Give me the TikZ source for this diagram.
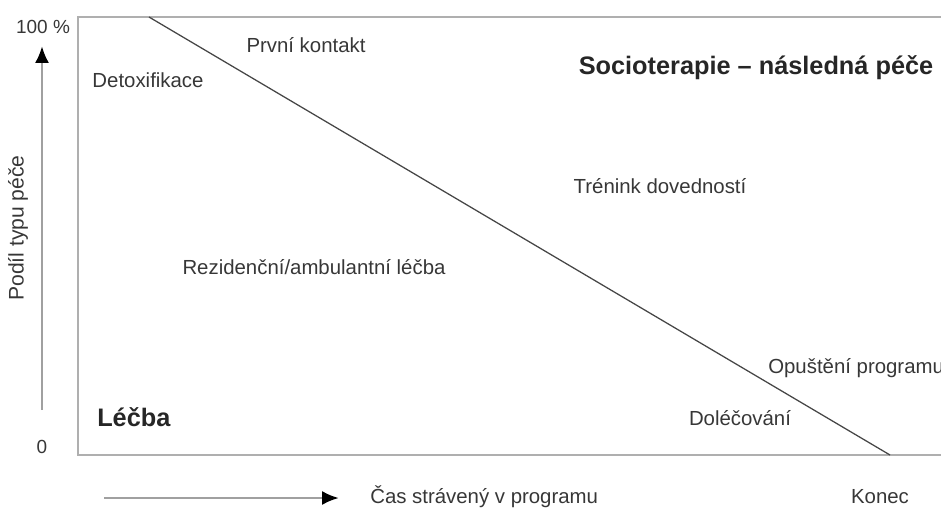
\documentclass[tikz,border=0pt]{standalone}
\usepackage{fontspec}
\setmainfont{Liberation Sans}
\usepackage{tikz}
\usepackage{xcolor}
\usetikzlibrary{arrows.meta,positioning}
\definecolor{txtgray}{RGB}{55,55,55}
\definecolor{boxgray}{RGB}{175,175,175}
\definecolor{shaftgray}{RGB}{160,160,160}
\definecolor{diaggray}{RGB}{70,70,70}

\begin{document}
\begin{tikzpicture}[x=0.025cm, y=-0.025cm,
  every node/.style={font=\fontsize{14.5}{16}\selectfont, text=txtgray, inner sep=0pt},
  bigl/.style={font=\fontsize{18}{20}\selectfont\bfseries, text=black!85},
  axl/.style={font=\fontsize{13.5}{15}\selectfont},
  axarrow/.style={draw=shaftgray, line width=2pt, -{Latex[color=black,length=12pt,width=10pt]}}]
\useasboundingbox (0,0) rectangle (941,508);
% frame, open at the right
\coordinate (tr) at (945,17);
\coordinate (tl) at (78,17);
\coordinate (bl) at (78,455);
\coordinate (br) at (945,455);
\draw[boxgray, line width=0.9pt] (tr) -- (tl) -- (bl) -- (br);
% dividing line
\coordinate (dtop) at (149,17);
\coordinate (dbot) at (890,455);
\draw[diaggray, line width=0.9pt] (dtop) -- (dbot);
% axes
\node[axl] (hundred) at (43,27) {100 \%};
\node[axl] (zero) at (42,447) {0};
\coordinate (ybot) at (42,410);
\coordinate (ytop) at (42,46);
\draw[axarrow] (ybot) -- (ytop);
\node[rotate=90, font=\fontsize{15}{17}\selectfont] (ylab) at (18,228) {Podíl typu péče};
\coordinate (xleft) at (104,498);
\coordinate (xright) at (339,498);
\draw[axarrow] (xleft) -- (xright);
\node[anchor=west] (xlab) at (370,497) {Čas strávený v programu};
\node (konec) at (880,497) {Konec};
% labels
\node (detox) at (148,80) {Detoxifikace};
\node (kontakt) at (306,45) {První kontakt};
\node[bigl] (socio) at (756,68) {Socioterapie – následná péče};
\node (trenink) at (660,186) {Trénink dovedností};
\node (rezid) at (314,267) {Rezidenční/ambulantní léčba};
\node[anchor=west] (opusteni) at (768,368) {Opuštění programu};
\node (dolec) at (740,418) {Doléčování};
\node[bigl, anchor=west] (lecba) at (97,417) {Léčba};
\end{tikzpicture}
\end{document}
